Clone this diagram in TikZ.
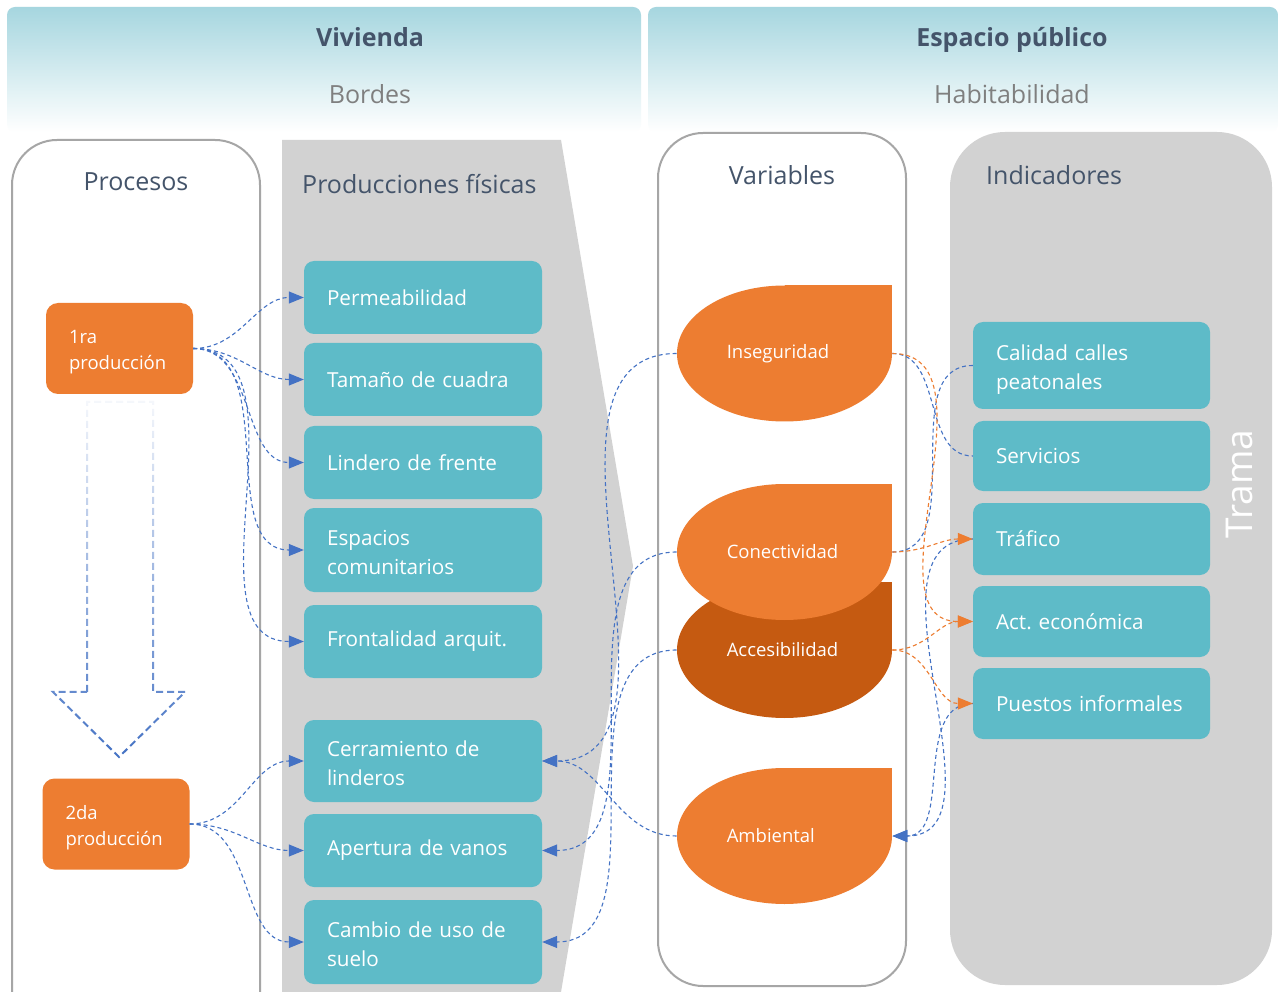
\documentclass[tikz,border=0pt]{standalone}
\usepackage{fontspec}
\setmainfont{Open Sans}
\usetikzlibrary{arrows.meta,fadings}
\definecolor{tealbox}{HTML}{5EBBC8}
\definecolor{panelgrey}{HTML}{D2D2D2}
\definecolor{bordergrey}{HTML}{A6A6A6}
\definecolor{orA}{HTML}{ED7D31}
\definecolor{orB}{HTML}{C55A11}
\definecolor{blueC}{HTML}{4472C4}
\definecolor{hdrtext}{HTML}{44546A}
\definecolor{greytext}{HTML}{7F7F7F}
\definecolor{hdrtop}{HTML}{A6D6DF}
\tikzfading[name=fadeup, top color=transparent!95, bottom color=transparent!0]
\newcommand\tdrop[5]{%
  \fill[#4] (#2,#3) ellipse [x radius=107.5, y radius=68];
  \fill[#4] (#2,#3) rectangle ++(107.5,-68);
  \node[tdtext] (#1) at (#2,#3) {#5};}
\newcommand\firstl{\rule{0pt}{20.5pt}}
\frenchspacing
\begin{document}
\begin{tikzpicture}[x=1pt,y=-1pt,
  tbox/.style={rounded corners=10pt, fill=tealbox, text=white, font=\fontsize{20.7}{29}\selectfont, align=left, inner xsep=23pt, inner ysep=2pt, text width=192pt, minimum height=73pt},
  rbox/.style={tbox, text width=191pt},
  obox/.style={rounded corners=12pt, fill=orA, text=white, font=\fontsize{18.5}{26}\selectfont, align=left, inner xsep=23pt, inner ysep=2pt, text width=101pt, minimum height=91pt},
  tdtext/.style={text=white, font=\fontsize{18.5}{22}\selectfont, align=left, inner xsep=50pt, inner ysep=0pt, text width=115.5pt, minimum height=136pt},
  ptitle/.style={text=hdrtext, font=\fontsize{25}{30}\selectfont, inner sep=0pt},
  bc/.style={draw=blueC, line width=1.1pt, dash pattern=on 4pt off 3pt},
  barr/.style={bc, -{Triangle[length=15pt,width=12pt]}},
  oc/.style={draw=orA, line width=1.1pt, dash pattern=on 4pt off 3pt},
  oarr/.style={oc, -{Triangle[length=15pt,width=12pt]}}]
\useasboundingbox (0,0) rectangle (1278,992);
\fill[white] (0,0) rectangle (1278,992);
% header bands
\shade[top color=hdrtop, bottom color=white, rounded corners=8pt] (7,7) rectangle (641,132);
\shade[top color=hdrtop, bottom color=white, rounded corners=8pt] (648,7) rectangle (1278,132);
\node[text=hdrtext, font=\fontsize{25}{30}\selectfont\bfseries] (viv) at (370,37) {Vivienda};
\node[text=greytext, font=\fontsize{25}{30}\selectfont] (bor) at (370,94) {Bordes};
\node[text=hdrtext, font=\fontsize{25}{30}\selectfont\bfseries, text depth=0pt] (esp) at (1012,37) {Espacio público};
\node[text=greytext, font=\fontsize{25}{30}\selectfont] (hab) at (1012,94) {Habitabilidad};
% panels
\draw[draw=bordergrey, line width=2pt, fill=white, rounded corners=45pt] (12,140) rectangle (260,1060);
\fill[panelgrey] (282,140) -- (561,140) -- (633,566) -- (561,992) -- (282,992) -- cycle;
\draw[draw=bordergrey, line width=2pt, fill=white, rounded corners=45pt] (658,133) rectangle (906,986);
\fill[panelgrey, rounded corners=55pt] (950,132) rectangle (1272,985);
\node[ptitle] (tproc) at (136,182) {Procesos};
\node[ptitle, anchor=west] (tprod) at (302,184) {Producciones físicas};
\node[ptitle] (tvar) at (782,175) {Variables};
\node[ptitle, anchor=west] (tind) at (986,175) {Indicadores};
\node[text=white, font=\fontsize{37}{40}\selectfont, rotate=90] (trama) at (1239,484) {Trama};
% left teal boxes
\node[tbox] (perm) at (423,297.5) {Permeabilidad};
\node[tbox] (tam) at (423,379.5) {Tamaño de cuadra};
\node[tbox] (lind) at (423,462.5) {Lindero de frente};
\node[tbox, minimum height=84pt] (espc) at (423,550) {\firstl Espacios\\comunitarios};
\node[tbox] (front) at (423,641.5) {Frontalidad arquit.};
\node[tbox, minimum height=82pt] (cerr) at (423,761) {\firstl Cerramiento de\\linderos};
\node[tbox] (aper) at (423,850.5) {Apertura de vanos};
\node[tbox, minimum height=84pt] (camb) at (423,942) {\firstl Cambio de uso de\\suelo};
% right teal boxes
\node[rbox, minimum height=87pt] (cal) at (1091.5,365.5) {\rule{0pt}{24.6pt}Calidad calles\\peatonales};
\node[rbox, minimum height=70pt] (serv) at (1091.5,456) {Servicios};
\node[rbox, minimum height=72pt] (traf) at (1091.5,539) {Tráfico};
\node[rbox, minimum height=71pt] (act) at (1091.5,621.5) {Act. económica};
\node[rbox, minimum height=71pt] (pue) at (1091.5,703.5) {Puestos informales};
% orange boxes
\node[obox] (p1) at (119.5,348.5) {\rule{0pt}{21pt}1ra\\producción};
\node[obox] (p2) at (116,824) {\rule{0pt}{21pt}2da\\producción};
% hollow arrow
\draw[draw=blueC, line width=2pt, dash pattern=on 7pt off 4pt, path fading=fadeup]
  (87,692) -- (87,402) -- (153,402) -- (153,692) -- (185,692) -- (119,757) -- (53,692) -- cycle;
% teardrops
\tdrop{ins}{784.5}{353.5}{orA}{Inseguridad}
\tdrop{acc}{784.5}{650}{orB}{Accesibilidad}
\tdrop{con}{784.5}{552}{orA}{Conectividad}
\tdrop{amb}{784.5}{836}{orA}{Ambiental}
% connectors left
\foreach \t in {perm,tam,lind,espc,front}
  \draw[barr] (p1.east) to[out=0,in=180] (\t.west);
\foreach \t in {cerr,aper,camb}
  \draw[barr] (p2.east) to[out=0,in=180] (\t.west);
% variables to producciones
\draw[barr] (ins.west) to[out=180,in=0] (cerr.east);
\draw[barr] (amb.west) to[out=180,in=0] (cerr.east);
\draw[barr] (con.west) to[out=180,in=0] (aper.east);
\draw[barr] (acc.west) to[out=180,in=0] (camb.east);
% right side
\draw[bc] (ins.east) to[out=0,in=180] (serv.west);
\draw[bc] (con.east) to[out=0,in=180] (cal.west);
\draw[barr] (traf.west) to[out=180,in=0] (amb.east);
\draw[barr] (pue.west) to[out=180,in=0] (amb.east);
\draw[oarr] (ins.east) to[out=0,in=180] (act.west);
\draw[oarr] (con.east) to[out=0,in=180] (traf.west);
\draw[oarr] (acc.east) to[out=0,in=180] (act.west);
\draw[oarr] (acc.east) to[out=0,in=180] (pue.west);
\end{tikzpicture}
\end{document}
